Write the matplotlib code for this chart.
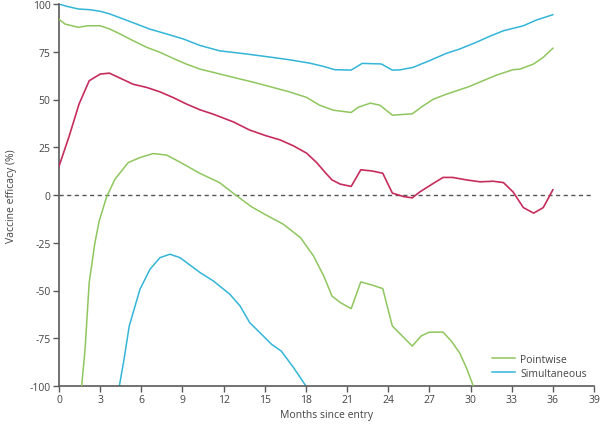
import matplotlib
matplotlib.use("Agg")
import matplotlib.pyplot as plt

# Point estimate (red)
est_x = [0, 0.75, 1.46, 2.2, 3.0, 3.67, 4.45, 5.4, 6.4, 7.36, 8.33, 9.3, 10.28, 11.25, 12.7, 13.9,
         15.1, 16.1, 17.1, 18.05, 18.78, 19.4, 19.9, 20.5, 21.3, 22.0, 22.8, 23.6, 24.3, 25.1, 25.75,
         26.3, 27.2, 28.0, 28.7, 29.7, 30.7, 31.65, 32.4, 33.1, 33.85, 34.6, 35.3, 36.0]
est_y = [15, 31, 47.6, 59.8, 63.3, 63.8, 61.2, 58, 56.3, 54, 51, 47.6, 44.6, 42.3, 38.3, 34,
         31, 28.9, 25.7, 21.9, 17, 11.8, 7.9, 5.7, 4.5, 13.2, 12.6, 11.4, 1.0, -0.8, -1.5,
         1.6, 5.7, 9.2, 9.2, 7.9, 6.9, 7.2, 6.5, 1.6, -6.6, -9.5, -6.6, 2.7]

# Pointwise band (green)
pw_up_x = [0, 0.44, 1.4, 2.1, 3.0, 3.7, 4.45, 5.4, 6.4, 7.36, 8.33, 9.3, 10.28, 11.25, 12.7, 14.2,
           15.6, 16.8, 18.05, 19.0, 20.0, 21.3, 21.8, 22.7, 23.4, 24.3, 25.75, 26.55, 27.3, 28.25,
           29.95, 30.9, 31.9, 33.1, 33.6, 34.6, 35.3, 36.0]
pw_up_y = [92, 89.5, 87.8, 88.6, 88.6, 86.9, 84.3, 80.8, 77.3, 74.7, 71.5, 68.5, 65.9, 64.2, 61.6, 59,
           56.3, 54, 51.1, 47, 44.4, 43.2, 45.9, 48.1, 47, 41.8, 42.5, 46.7, 50.2, 52.8,
           56.9, 59.8, 62.8, 65.6, 65.9, 68.6, 72.1, 76.8]
pw_lo_x = [1.65, 1.9, 2.2, 2.62, 2.93, 3.47, 4.08, 5.05, 5.9, 6.87, 7.85, 8.82, 10.28, 11.7, 12.8,
           14.04, 15.1, 16.35, 17.6, 18.55, 19.3, 19.9, 20.5, 21.3, 22.0, 22.8, 23.6, 24.3, 25.75,
           26.4, 27.0, 28.0, 28.6, 29.2, 29.7, 30.2]
pw_lo_y = [-100, -80.8, -45.9, -24.9, -13.6, -1.0, 8.3, 17, 19.6, 21.7, 20.9, 17.2, 11.3, 6.5, 0.4,
           -6.2, -10.5, -15.3, -22.3, -31.9, -42.4, -52.9, -56.3, -59.5, -45.5, -47.1, -49, -68.6, -79.1,
           -73.8, -71.8, -71.8, -76.5, -82.6, -90.5, -100]

# Simultaneous band (blue)
sm_up_x = [0, 0.56, 1.4, 2.26, 3.0, 3.7, 4.7, 5.66, 6.6, 7.85, 9.06, 10.28, 11.7, 13.7, 15.6, 16.8,
           18.3, 19.3, 20.1, 21.3, 22.1, 23.5, 24.3, 24.85, 25.8, 27.0, 28.25, 29.2, 30.4, 31.4,
           32.4, 33.85, 34.8, 36.0]
sm_up_y = [100, 98.8, 97.4, 97, 96.2, 94.8, 92.1, 89.5, 86.9, 84.3, 81.7, 78.3, 75.5, 73.8, 72, 70.8,
           69, 67.3, 65.6, 65.4, 68.9, 68.6, 65.4, 65.5, 66.8, 70.3, 74.2, 76.4, 79.9, 83.1,
           86, 88.6, 91.6, 94.4]
sm_lo_x = [4.4, 4.74, 5.12, 5.9, 6.63, 7.36, 8.09, 8.82, 10.28, 11.25, 12.46, 13.2, 13.9, 14.65,
           15.5, 16.2, 17.1, 18.0]
sm_lo_y = [-100, -86.1, -68.6, -49.4, -38.9, -32.8, -31, -32.8, -40.6, -45, -52, -58.1, -66.8, -72.1,
           -78.2, -81.7, -90.4, -100]

x_ticks = [0, 3, 6, 9, 12, 15, 18, 21, 24, 27, 30, 33, 36, 39]
y_ticks = [-100, -75, -50, -25, 0, 25, 50, 75, 100]

RED = "#c62c5c"
GREEN = "#8fc65e"
BLUE = "#33b5d8"
AX = "#5a5a5a"

plt.rcParams['font.family'] = ['Open Sans', 'DejaVu Sans']

fig = plt.figure(figsize=(6.0, 4.31), dpi=100)
ax = fig.add_axes([59/600, 44/431, (594-59)/600, (387-5)/431])

ax.axhline(0, color="#555555", lw=1.0, ls=(0, (3, 2.5)), zorder=1)
ax.plot(sm_up_x, sm_up_y, color=BLUE, lw=1.1, label="Simultaneous", zorder=2)
ax.plot(sm_lo_x, sm_lo_y, color=BLUE, lw=1.1, zorder=2)
ax.plot(pw_up_x, pw_up_y, color=GREEN, lw=1.1, label="Pointwise", zorder=3)
ax.plot(pw_lo_x, pw_lo_y, color=GREEN, lw=1.1, zorder=3)
ax.plot(est_x, est_y, color=RED, lw=1.2, zorder=4)

ax.set_xlim(0, 39)
ax.set_ylim(-100, 100)
ax.set_xticks(x_ticks)
ax.set_yticks(y_ticks)
ax.set_yticklabels([str(v) for v in y_ticks])

for s in ['top', 'right']:
    ax.spines[s].set_visible(False)
for s in ['left', 'bottom']:
    ax.spines[s].set_color(AX)
    ax.spines[s].set_linewidth(1.2)
ax.tick_params(axis='both', colors=AX, labelcolor="#444444", labelsize=7.5, width=1.0, length=4,
               direction='out', pad=2)

ax.set_xlabel("Months since entry", fontsize=7.5, color="#444444", labelpad=3)
ax.set_ylabel("Vaccine efficacy (%)", fontsize=7.5, color="#444444", labelpad=9)

h, l = ax.get_legend_handles_labels()
order = [1, 0]
ax.legend([h[i] for i in order], [l[i] for i in order], loc='lower right', frameon=False,
          fontsize=7.5, handlelength=2.2, handletextpad=0.5, labelspacing=0.3,
          bbox_to_anchor=(1.0, 0.0), borderaxespad=0.3, labelcolor="#444444")

fig.savefig("out.png", dpi=100)
